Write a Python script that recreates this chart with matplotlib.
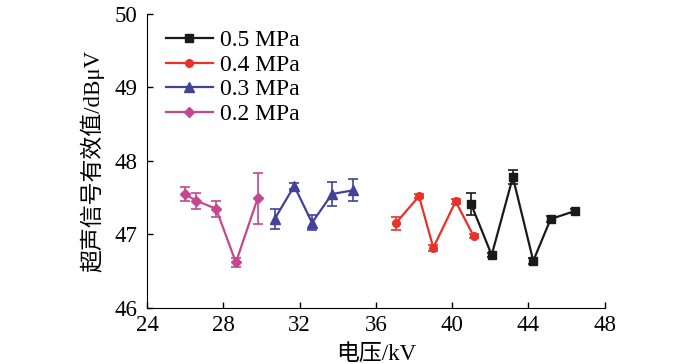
import matplotlib
matplotlib.use("Agg")
import matplotlib.pyplot as plt

plt.rcParams['font.family'] = ['Liberation Serif', 'Noto Sans CJK SC']
plt.rcParams['axes.unicode_minus'] = False

labels = ["0.5 MPa", "0.4 MPa", "0.3 MPa", "0.2 MPa"]
colors = ["#1a1a1a", "#e8322a", "#43429a", "#c4478f"]
markers = ["s", "o", "^", "D"]
msizes = [5.5, 5.5, 6.5, 5.5]

x_05 = [40.98, 42.07, 43.18, 44.25, 45.16, 46.45]
y_05 = [47.42, 46.72, 47.78, 46.64, 47.21, 47.32]
e_05 = [0.15, 0.03, 0.10, 0.04, 0.04, 0.03]

x_04 = [37.03, 38.26, 39.01, 40.18, 41.12]
y_04 = [47.15, 47.52, 46.82, 47.45, 46.98]
e_04 = [0.09, 0.03, 0.04, 0.03, 0.03]

x_03 = [30.69, 31.72, 32.65, 33.70, 34.78]
y_03 = [47.21, 47.66, 47.16, 47.55, 47.60]
e_03 = [0.14, 0.04, 0.10, 0.16, 0.15]

x_02 = [25.99, 26.57, 27.62, 28.66, 29.80]
y_02 = [47.55, 47.46, 47.35, 46.62, 47.49]
e_02 = [0.09, 0.11, 0.11, 0.06, 0.35]

series = [(x_05, y_05, e_05), (x_04, y_04, e_04), (x_03, y_03, e_03), (x_02, y_02, e_02)]

fig = plt.figure(figsize=(7, 3.64), dpi=100)
ax = fig.add_axes([0.21, 0.154, 0.654, 0.8075])

handles = []
for (x, y, e), lab, c, m, ms in zip(series, labels, colors, markers, msizes):
    h = ax.errorbar(x, y, yerr=e, color=c, marker=m, markersize=ms, linewidth=1.6,
                    capsize=3.5, elinewidth=1.2, capthick=1.2, label=lab)
    handles.append(h[0])

ax.set_xlim(24, 48)
ax.set_ylim(46, 50)
ax.set_xticks([24, 28, 32, 36, 40, 44, 48])
ax.set_yticks([46, 47, 48, 49, 50])
ax.spines['top'].set_visible(False)
ax.spines['right'].set_visible(False)
ax.tick_params(direction='in', labelsize=16.5, length=4, width=1)
ax.tick_params(axis='y', pad=7)
ax.tick_params(axis='x', pad=5)
ax.set_xlabel("电压/kV", fontsize=16.5, labelpad=6)
ax.set_ylabel("超声信号有效值/dBμV", fontsize=16.5, labelpad=7)

ax.legend(handles=handles, labels=labels, loc='upper left', bbox_to_anchor=(0.01, 0.995),
          frameon=False, fontsize=17, handlelength=2.0, labelspacing=0.13,
          borderaxespad=0.2, handletextpad=0.3)

fig.savefig("out.png", dpi=100)
